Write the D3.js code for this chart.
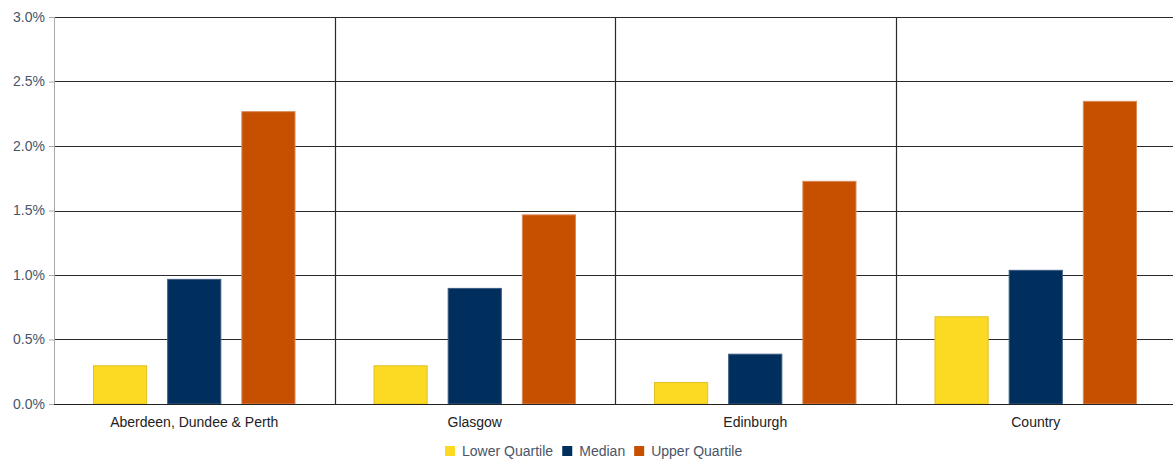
<!DOCTYPE html>
<html><head><meta charset="utf-8">
<script src="https://cdn.jsdelivr.net/npm/d3@7"></script>
<style>body{margin:0;background:#fff}svg{display:block;font-family:"Liberation Sans",Arial,sans-serif}</style>
</head><body><svg id="c" width="1173" height="464"></svg>
<script>
const categories = ["Aberdeen, Dundee & Perth", "Glasgow", "Edinburgh", "Country"];
const seriesNames = ["Lower Quartile", "Median", "Upper Quartile"];
const lowerQuartile = [0.0030, 0.0030, 0.0017, 0.0068];
const median = [0.0097, 0.0090, 0.0039, 0.0104];
const upperQuartile = [0.0227, 0.0147, 0.0173, 0.0235];
const yTicks = [0, 0.005, 0.010, 0.015, 0.020, 0.025, 0.030];
const colors = ["#FCDA24", "#002E5D", "#C64F00"];
const strokes = ["#E2C020", "#3A5A80", "#D88A5A"];

const series = [lowerQuartile, median, upperQuartile];
const svg = d3.select("#c");
const m = {l: 54, t: 17, r: -3, b: 60};
const W = 1173 - m.l - m.r, H = 464 - m.t - m.b;
const g = svg.append("g").attr("transform", `translate(${m.l},${m.t})`);

const x = d3.scaleBand().domain(categories).range([0, W]).paddingInner(0).paddingOuter(0);
const xs = d3.scaleBand().domain(seriesNames).range([39, x.bandwidth() - 39]).paddingInner(0.27).paddingOuter(0);
const y = d3.scaleLinear().domain([0, 0.03]).range([H, 0]);

// horizontal gridlines
g.selectAll("line.grid").data(yTicks).join("line").attr("class", "grid")
  .attr("x1", 0).attr("x2", W).attr("y1", d => Math.round(y(d)) + 0.5).attr("y2", d => Math.round(y(d)) + 0.5)
  .attr("stroke", "#2a2a2a").attr("stroke-width", 1.2);
// vertical separators
g.selectAll("line.sep").data(categories.slice(1)).join("line").attr("class", "sep")
  .attr("x1", d => Math.round(x(d)) + 0.5).attr("x2", d => Math.round(x(d)) + 0.5)
  .attr("y1", 0).attr("y2", H).attr("stroke", "#2a2a2a").attr("stroke-width", 1.2);

// bars
categories.forEach((c, ci) => {
  series.forEach((s, si) => {
    g.append("rect")
      .attr("x", x(c) + xs(seriesNames[si]) + 0.5)
      .attr("y", y(s[ci]) + 0.5)
      .attr("width", xs.bandwidth() - 1)
      .attr("height", H - y(s[ci]) - 0.5)
      .attr("fill", colors[si]).attr("stroke", strokes[si]).attr("stroke-width", 1);
  });
});

// left axis
const ya = g.append("g").call(d3.axisLeft(y).tickValues(yTicks).tickFormat(d3.format(".1%")).tickSize(5).tickPadding(4));
ya.select(".domain").attr("stroke", "#aaa").attr("d", `M0.5,0V${H}`);
ya.selectAll(".tick line").attr("stroke", "#aaa");
ya.selectAll(".tick text").attr("fill", "#4a5568").attr("font-size", 14).attr("font-family", '"Liberation Sans",Arial,sans-serif');
// baseline
g.append("line").attr("x1", 0).attr("x2", W).attr("y1", H + 0.5).attr("y2", H + 0.5).attr("stroke", "#222");

// category labels
const xa = g.append("g").attr("transform", `translate(0,${H})`).call(d3.axisBottom(x).tickSize(0).tickPadding(13));
xa.select(".domain").remove();
xa.selectAll(".tick text").attr("fill", "#222").attr("font-size", 14).attr("font-family", '"Liberation Sans",Arial,sans-serif');

// legend
const legend = svg.append("g").attr("transform", "translate(0,451)");
const items = legend.selectAll("g").data(seriesNames).join("g");
items.append("rect").attr("y", -5).attr("width", 10).attr("height", 10).attr("fill", (d, i) => colors[i]);
items.append("text").attr("x", 17).attr("dy", "0.35em").attr("font-size", 14).attr("fill", "#4a5568").text(d => d);
let xpos = 0; const pos = [];
items.each(function(d, i) { pos.push(xpos); xpos += this.getBBox().width + 9; });
const start = 445;
items.attr("transform", (d, i) => `translate(${start + pos[i]},0)`);
</script></body></html>
